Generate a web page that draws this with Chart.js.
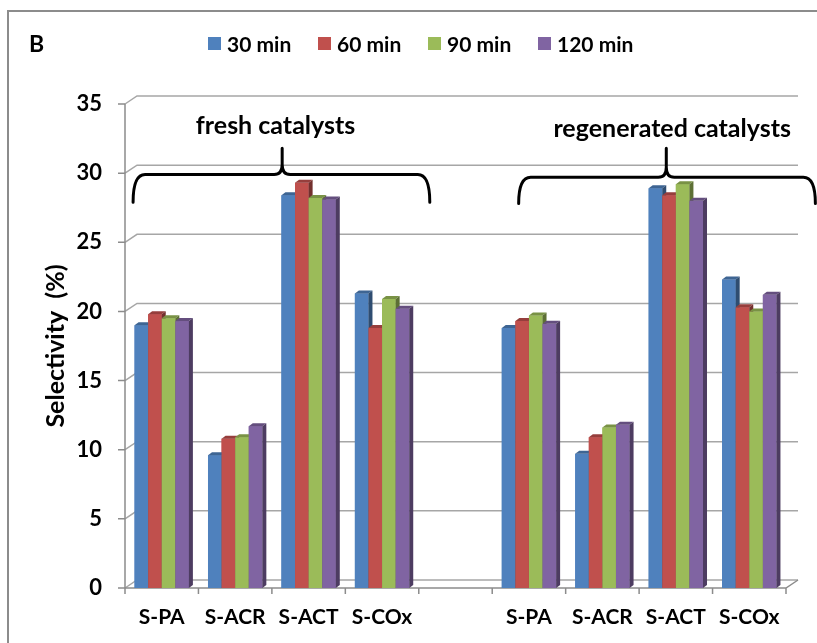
<!DOCTYPE html>
<html>
<head>
<meta charset="utf-8">
<script src="https://cdn.jsdelivr.net/npm/chart.js@4.4.1/dist/chart.umd.min.js"></script>
<style>
  body { margin: 0; background: #fff; }
  #wrap { position: relative; width: 817px; height: 643px; font-family: Lato, 'Liberation Sans', sans-serif; }
  #panel { position: absolute; left: 29px; top: 29px; font-weight: bold; font-size: 23px; color: #000; }
  #legend { position: absolute; left: 208px; top: 31px; display: flex; }
  .legend-item { display: flex; align-items: center; width: 110px; font-weight: bold; font-size: 21px; color: #000; }
  .legend-box { width: 13px; height: 13px; margin-right: 6px; }
</style>
</head>
<body>
<div id="wrap">
  <canvas id="selChart" width="817" height="643"></canvas>
  <div id="panel">B</div>
  <div id="legend"></div>
</div>
<script>
// Data
const categories = ['S-PA', 'S-ACR', 'S-ACT', 'S-COx', '', 'S-PA', 'S-ACR', 'S-ACT', 'S-COx'];
const seriesLabels = ['30 min', '60 min', '90 min', '120 min'];
const min30 = [19.0, 9.6, 28.4, 21.3, null, 18.8, 9.7, 28.9, 22.3];
const min60 = [19.8, 10.8, 29.3, 18.8, null, 19.3, 10.9, 28.4, 20.3];
const min90 = [19.5, 10.9, 28.2, 20.9, null, 19.7, 11.6, 29.2, 20.0];
const min120 = [19.3, 11.7, 28.1, 20.2, null, 19.1, 11.8, 28.0, 21.2];
const yTicks = [0, 5, 10, 15, 20, 25, 30, 35];
const groupNotes = ['fresh catalysts', 'regenerated catalysts'];

const seriesColors = ['#4F81BD', '#C0504D', '#9BBB59', '#8064A2'];
const FONT = "Lato, 'Liberation Sans', sans-serif";

// depth of the back wall and of the bars
const DX = 12, DY = 8;
const BX = 4, BY = 3;

function shade(hex, f) {
  const n = parseInt(hex.slice(1), 16);
  const r = Math.round(((n >> 16) & 255) * f);
  const g = Math.round(((n >> 8) & 255) * f);
  const b = Math.round((n & 255) * f);
  return `rgb(${r},${g},${b})`;
}

// back wall gridlines + axes in the 3D look
const wallPlugin = {
  id: 'wall',
  beforeDatasetsDraw(chart) {
    const { ctx, chartArea: a, scales: { x, y } } = chart;
    ctx.save();
    ctx.lineWidth = 1.5;
    ctx.strokeStyle = '#a6a6a6';
    yTicks.forEach(v => {
      const py = y.getPixelForValue(v);
      ctx.beginPath();
      ctx.moveTo(a.left, py);
      ctx.lineTo(a.left + DX, py - DY);
      ctx.lineTo(a.right + DX, py - DY);
      ctx.stroke();
    });
    ctx.strokeStyle = '#8c8c8c';
    ctx.beginPath();
    yTicks.forEach(v => {
      const py = y.getPixelForValue(v);
      ctx.moveTo(a.left - 7, py);
      ctx.lineTo(a.left, py);
    });
    ctx.moveTo(a.left, a.top);
    ctx.lineTo(a.left, a.bottom);
    ctx.lineTo(a.right, a.bottom);
    ctx.lineTo(a.right + DX, a.bottom - DY);
    for (let k = 0; k <= categories.length; k++) {
      const px = x.getPixelForValue(k - 0.5);
      ctx.moveTo(px, a.bottom);
      ctx.lineTo(px, a.bottom + 6);
    }
    ctx.stroke();
    ctx.restore();
  }
};

// give each bar a top and a side face
const depthPlugin = {
  id: 'depth',
  afterDatasetsDraw(chart) {
    const ctx = chart.ctx;
    ctx.save();
    chart.data.datasets.forEach((ds, i) => {
      const meta = chart.getDatasetMeta(i);
      meta.data.forEach((bar, j) => {
        if (ds.data[j] == null) return;
        const { x, y, base, width } = bar.getProps(['x', 'y', 'base', 'width'], true);
        const l = x - width / 2, r = x + width / 2;
        ctx.fillStyle = ds.backgroundColor;
        ctx.fillRect(l, y, width, base - y);
        ctx.fillStyle = shade(ds.backgroundColor, 0.78);
        ctx.beginPath();
        ctx.moveTo(l, y); ctx.lineTo(l + BX, y - BY); ctx.lineTo(r + BX, y - BY); ctx.lineTo(r, y);
        ctx.closePath(); ctx.fill();
        ctx.fillStyle = shade(ds.backgroundColor, 0.6);
        ctx.beginPath();
        ctx.moveTo(r, y); ctx.lineTo(r + BX, y - BY); ctx.lineTo(r + BX, base - BY); ctx.lineTo(r, base);
        ctx.closePath(); ctx.fill();
      });
    });
    ctx.restore();
  }
};

function drawBrace(ctx, xl, xc, xr, yl, ye, yp) {
  ctx.beginPath();
  ctx.moveTo(xl, ye);
  ctx.quadraticCurveTo(xl, yl, xl + 12, yl);
  ctx.lineTo(xc - 8, yl);
  ctx.quadraticCurveTo(xc, yl, xc, yl - 10);
  ctx.lineTo(xc, yp);
  ctx.moveTo(xc, yl - 10);
  ctx.quadraticCurveTo(xc, yl, xc + 8, yl);
  ctx.lineTo(xr - 12, yl);
  ctx.quadraticCurveTo(xr, yl, xr, ye);
  ctx.stroke();
}

// group braces, their labels, the y title and the frame
const notesPlugin = {
  id: 'notes',
  afterDraw(chart) {
    const { ctx, chartArea: a, scales: { x, y } } = chart;
    ctx.save();
    ctx.strokeStyle = '#000';
    ctx.lineWidth = 3;
    ctx.lineCap = 'round';
    drawBrace(ctx, x.getPixelForValue(-0.39), x.getPixelForValue(1.64), x.getPixelForValue(3.65),
      y.getPixelForValue(29.9), y.getPixelForValue(27.9), y.getPixelForValue(31.8));
    drawBrace(ctx, x.getPixelForValue(4.86), x.getPixelForValue(6.87), x.getPixelForValue(8.9),
      y.getPixelForValue(29.7), y.getPixelForValue(27.8), y.getPixelForValue(31.8));

    ctx.fillStyle = '#000';
    ctx.font = `bold 25px ${FONT}`;
    ctx.textAlign = 'center';
    ctx.textBaseline = 'middle';
    ctx.fillText(groupNotes[0], x.getPixelForValue(1.55), y.getPixelForValue(33.4));
    ctx.fillText(groupNotes[1], x.getPixelForValue(6.95), y.getPixelForValue(33.2));

    // y axis title
    ctx.save();
    ctx.translate(56, (a.top + a.bottom) / 2);
    ctx.rotate(-Math.PI / 2);
    ctx.font = `bold 25px ${FONT}`;
    ctx.fillText('Selectivity  (%)', 0, 0);
    ctx.restore();

    ctx.strokeStyle = '#8c8c8c';
    ctx.lineWidth = 2;
    ctx.strokeRect(8, 11, 840, 680);
    ctx.restore();
  }
};

function buildLegend() {
  const box = document.getElementById('legend');
  seriesLabels.forEach((lab, i) => {
    const item = document.createElement('div');
    item.className = 'legend-item';
    const sw = document.createElement('span');
    sw.className = 'legend-box';
    sw.style.background = seriesColors[i];
    item.appendChild(sw);
    item.appendChild(document.createTextNode(lab));
    box.appendChild(item);
  });
}

function init() {
  buildLegend();
  const ctx = document.getElementById('selChart').getContext('2d');
  const values = [min30, min60, min90, min120];

  new Chart(ctx, {
    type: 'bar',
    data: {
      labels: categories,
      datasets: values.map((d, i) => ({
        label: seriesLabels[i],
        data: d,
        backgroundColor: seriesColors[i],
        borderWidth: 0,
        categoryPercentage: 0.74,
        barPercentage: 1.0
      }))
    },
    options: {
      responsive: false,
      animation: false,
      layout: { padding: { left: 0, right: 31, top: 104, bottom: 0 } },
      plugins: {
        legend: { display: false },
        tooltip: { enabled: false }
      },
      scales: {
        x: {
          grid: { display: false, drawTicks: false },
          border: { display: false },
          ticks: { color: '#000', font: { family: FONT, size: 21, weight: 'bold' }, padding: 17 },
          afterFit(scale) { scale.height = 55; }
        },
        y: {
          min: 0,
          max: 35,
          afterBuildTicks(scale) { scale.ticks = yTicks.map(v => ({ value: v })); },
          grid: { display: false, drawTicks: false },
          border: { display: false },
          ticks: { color: '#000', font: { family: FONT, size: 22, weight: 'bold' }, padding: 23 },
          afterFit(scale) { scale.width = 125; }
        }
      }
    },
    plugins: [wallPlugin, depthPlugin, notesPlugin]
  });
}

document.addEventListener('DOMContentLoaded', init);
</script>
</body>
</html>
